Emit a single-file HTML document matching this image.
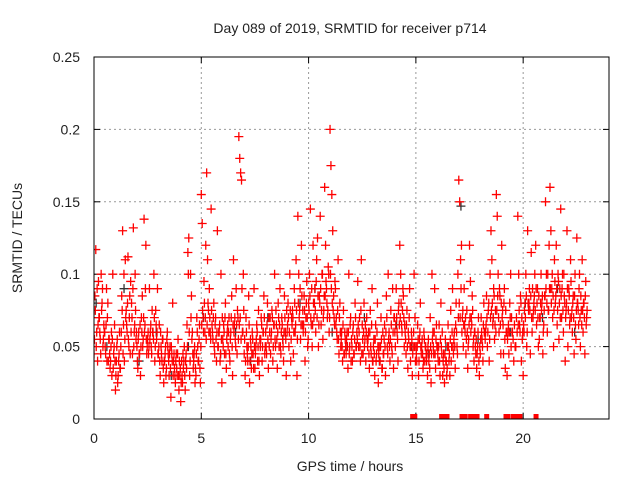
<!DOCTYPE html>
<html><head><meta charset="utf-8"><style>
body{margin:0;background:#fff}
svg text{font-family:"Liberation Sans",sans-serif;fill:#222}
</style></head><body>
<svg width="640" height="480" viewBox="0 0 640 480">
<g id="grid"></g>
<g id="axes"></g>
<defs><clipPath id="pc"><rect x="94" y="57" width="515" height="362"/></clipPath></defs>
<g id="pts" clip-path="url(#pc)"></g>
<rect x="94" y="57" width="515" height="362" fill="none" stroke="#000" stroke-width="1"/>
<text x="350" y="33" text-anchor="middle" font-size="14">Day 089 of 2019, SRMTID for receiver p714</text>
<text x="350" y="471" text-anchor="middle" font-size="14">GPS time / hours</text>
<text transform="translate(22,238) rotate(-90)" text-anchor="middle" font-size="14">SRMTID / TECUs</text>
</svg>
<script>
const xTicks=[0,5,10,15,20];
const yTicks=[0,0.05,0.1,0.15,0.2,0.25];
const yTickLabels=["0","0.05","0.1","0.15","0.2","0.25"];
const binStarts=[0,0.25,0.5,0.75,1,1.25,1.5,1.75,2,2.25,2.5,2.75,3,3.25,3.5,3.75,4,4.25,4.5,4.75,5,5.25,5.5,5.75,6,6.25,6.5,6.75,7,7.25,7.5,7.75,8,8.25,8.5,8.75,9,9.25,9.5,9.75,10,10.25,10.5,10.75,11,11.25,11.5,11.75,12,12.25,12.5,12.75,13,13.25,13.5,13.75,14,14.25,14.5,14.75,15,15.25,15.5,15.75,16,16.25,16.5,16.75,17,17.25,17.5,17.75,18,18.25,18.5,18.75,19,19.25,19.5,19.75,20,20.25,20.5,20.75,21,21.25,21.5,21.75,22,22.25,22.5,22.75];
const binValues=[
[.045,.085,.117,.06,.04,.095],[.07,.055,.1,.08,.05,.065],[.06,.045,.09,.07,.04,.055],[.035,.05,.03,.1,.045,.065],
[.02,.04,.055,.03,.045,.035],[.05,.085,.13,.065,.04,.11],[.075,.06,.112,.05,.085,.095],[.08,.045,.132,.06,.1,.055],
[.05,.035,.06,.045,.03,.07],[.085,.055,.138,.065,.12,.045],[.055,.045,.09,.06,.05,.075],[.06,.1,.04,.075,.055,.09],
[.045,.065,.03,.05,.04,.055],[.025,.04,.05,.035,.06,.045],[.03,.05,.015,.045,.08,.04],[.035,.025,.045,.03,.055,.02],
[.03,.012,.04,.025,.035,.05],[.02,.045,.065,.115,.125,.03],[.1,.085,.06,.035,.045,.025],[.03,.07,.05,.04,.065,.025],
[.155,.135,.07,.095,.06,.12],[.17,.11,.075,.09,.06,.145],[.065,.055,.08,.045,.07,.04],[.13,.05,.06,.04,.1,.025],
[.055,.065,.045,.08,.035,.06],[.05,.07,.04,.06,.085,.03],[.11,.065,.055,.09,.045,.07],[.195,.18,.17,.165,.06,.1],
[.045,.03,.07,.05,.04,.085],[.025,.055,.035,.06,.045,.09],[.035,.05,.065,.04,.075,.03],[.05,.07,.04,.06,.085,.045],
[.06,.045,.08,.035,.05,.07],[.055,.075,.04,.065,.1,.05],[.065,.035,.08,.05,.09,.045],[.07,.055,.04,.085,.06,.03],
[.06,.08,.05,.1,.04,.07],[.075,.045,.09,.06,.11,.03],[.14,.1,.075,.055,.12,.065],[.06,.085,.04,.07,.095,.05],
[.08,.1,.145,.065,.05,.12],[.07,.09,.06,.11,.125,.05],[.085,.14,.065,.1,.055,.075],[.16,.12,.09,.07,.105,.06],
[.2,.175,.155,.13,.085,.065],[.09,.07,.055,.11,.045,.08],[.05,.06,.04,.075,.045,.055],[.045,.06,.035,.1,.05,.07],
[.055,.04,.065,.045,.08,.05],[.06,.095,.05,.07,.04,.11],[.065,.045,.08,.055,.04,.07],[.05,.06,.035,.075,.045,.09],
[.04,.055,.03,.065,.045,.08],[.025,.05,.04,.07,.035,.06],[.045,.065,.03,.085,.05,.1],[.06,.04,.075,.05,.09,.035],
[.07,.05,.09,.06,.04,.08],[.12,.1,.065,.075,.085,.05],[.06,.045,.075,.035,.055,.09],[.04,.06,.03,.05,.1,.07],
[.05,.04,.065,.03,.055,.08],[.045,.055,.035,.06,.04,.05],[.04,.03,.055,.045,.07,.025],[.1,.06,.045,.09,.035,.065],
[.05,.04,.065,.03,.08,.045],[.03,.045,.025,.055,.04,.035],[.065,.04,.03,.075,.05,.09],[.045,.06,.035,.08,.05,.1],
[.165,.15,.11,.12,.07,.05],[.09,.06,.045,.075,.035,.055],[.12,.095,.07,.085,.05,.04],[.06,.045,.035,.05,.07,.03],
[.045,.07,.055,.04,.08,.06],[.06,.085,.05,.075,.04,.1],[.13,.11,.065,.09,.055,.075],[.155,.14,.1,.06,.085,.045],
[.12,.075,.045,.09,.035,.06],[.03,.06,.045,.08,.1,.07],[.06,.04,.05,.07],[.14,.1,.065,.085,.04,.055],
[.03,.06,.08,.1,.05,.13],[.075,.09,.045,.115,.06,.07],[.08,.1,.12,.065,.09,.05],[.055,.07,.1,.08,.045,.065],
[.085,.15,.1,.06,.075,.12],[.16,.13,.09,.07,.05,.11],[.08,.12,.065,.1,.055,.09],[.145,.07,.1,.06,.085,.04],
[.075,.13,.05,.09,.065,.11],[.07,.06,.085,.045,.1,.055],[.125,.08,.065,.1,.05,.075],[.11,.06,.08,.045,.095,.07]];
const binValues2=[
[.055,.075,.05,.09,.065,.07],[.06,.045,.075,.09,.055,.06],[.05,.065,.04,.08,.055,.045],[.04,.06,.055,.035,.05,.04],
[.03,.05,.025,.04,.06,.035],[.06,.075,.045,.1,.055,.07],[.065,.08,.055,.07,.045,.06],[.07,.09,.05,.065,.075,.06],
[.04,.055,.045,.065,.05,.06],[.05,.07,.06,.09,.055,.05],[.06,.05,.055,.065,.045,.06],[.055,.07,.05,.065,.06,.045],
[.05,.04,.06,.045,.055,.035],[.04,.045,.03,.055,.05,.04],[.045,.035,.05,.04,.03,.045],[.03,.04,.035,.045,.03,.04],
[.035,.025,.03,.045,.04,.03],[.04,.035,.05,.1,.06,.04],[.07,.055,.045,.04,.05,.035],[.045,.06,.04,.055,.035,.05],
[.065,.075,.06,.08,.07,.055],[.065,.08,.06,.07,.055,.075],[.06,.07,.05,.065,.055,.06],[.05,.06,.065,.045,.055,.07],
[.05,.06,.07,.045,.055,.065],[.06,.045,.055,.07,.05,.065],[.06,.07,.05,.065,.075,.055],[.065,.07,.055,.09,.06,.075],
[.055,.04,.06,.045,.05,.065],[.04,.05,.045,.055,.035,.05],[.045,.055,.06,.05,.04,.055],[.055,.065,.05,.06,.07,.05],
[.05,.065,.055,.07,.06,.045],[.06,.07,.05,.065,.055,.075],[.055,.06,.07,.065,.05,.06],[.065,.05,.06,.07,.055,.075],
[.065,.07,.06,.075,.055,.065],[.07,.06,.08,.065,.075,.055],[.08,.07,.09,.065,.085,.075],[.065,.075,.06,.08,.07,.055],
[.075,.085,.07,.09,.065,.08],[.08,.075,.095,.07,.085,.065],[.08,.09,.075,.1,.07,.085],[.085,.095,.08,.075,.1,.07],
[.1,.09,.08,.075,.07,.095],[.065,.06,.075,.055,.07,.06],[.055,.05,.065,.045,.06,.05],[.055,.05,.06,.045,.065,.04],
[.05,.06,.045,.055,.07,.05],[.055,.065,.06,.05,.075,.045],[.055,.06,.05,.065,.06,.055],[.055,.045,.06,.05,.065,.04],
[.05,.045,.055,.04,.06,.05],[.045,.04,.05,.055,.035,.045],[.055,.05,.06,.07,.045,.055],[.05,.055,.065,.045,.06,.07],
[.06,.065,.07,.055,.075,.065],[.07,.08,.06,.09,.07,.065],[.055,.065,.05,.06,.07,.05],[.05,.055,.045,.06,.05,.04],
[.045,.05,.055,.04,.06,.05],[.05,.045,.04,.055,.05,.045],[.045,.05,.04,.035,.05,.045],[.055,.05,.06,.045,.055,.05],
[.045,.05,.04,.055,.05,.06],[.04,.035,.045,.04,.03,.05],[.05,.045,.055,.04,.06,.05],[.055,.05,.065,.06,.045,.07],
[.08,.07,.09,.06,.075,.065],[.065,.07,.055,.06,.05,.065],[.07,.06,.065,.075,.055,.06],[.05,.055,.045,.06,.04,.05],
[.055,.06,.05,.065,.06,.055],[.065,.07,.06,.08,.055,.07],[.075,.08,.07,.085,.065,.06],[.075,.085,.07,.09,.065,.08],
[.07,.065,.08,.055,.075,.06],[.055,.065,.06,.07,.05,.06],[.055,.065,.05,.06],[.065,.075,.06,.08,.07,.06],
[.065,.075,.07,.085,.06,.08],[.08,.075,.085,.07,.09,.075],[.085,.075,.09,.08,.07,.085],[.07,.08,.075,.085,.06,.075],
[.085,.09,.08,.1,.075,.09],[.09,.08,.1,.085,.075,.095],[.085,.09,.075,.095,.08,.07],[.085,.09,.075,.1,.08,.07],
[.08,.09,.075,.085,.07,.095],[.075,.08,.07,.085,.065,.075],[.08,.075,.09,.07,.085,.065],[.075,.08,.07,.085,.065,.075]];
const blackHours=[0.1,0.6,1.4,2.1,2.9,3.6,4.4,5.1,5.9,6.6,7.3,8.1,8.8,9.6,10.3,11.1,11.8,12.6,13.3,14.1,14.8,15.6,16.4,17.1,17.9,18.6,19.4,20.1,20.9,21.6,22.4];
const blackValues=[.08,.05,.09,.04,.06,.03,.05,.07,.045,.06,.04,.07,.055,.08,.09,.06,.05,.07,.04,.065,.05,.045,.05,.147,.055,.07,.06,.08,.07,.09,.06];
const zeroHours=[14.85,14.95,16.2,16.3,16.45,17.15,17.3,17.55,17.65,17.75,17.85,18.3,19.2,19.3,19.55,19.65,19.75,19.85,20.6];

const NS='http://www.w3.org/2000/svg';
const X0=94,X1=609,Y0=419,Y1=57;
function xs(h){return X0+(h/24)*(X1-X0);}
function ys(v){return Y0-(v/0.25)*(Y0-Y1);}
function mk(tag,attrs,parent){const e=document.createElementNS(NS,tag);for(const k in attrs)e.setAttribute(k,attrs[k]);parent.appendChild(e);return e;}
const grid=document.getElementById('grid'),axes=document.getElementById('axes'),pts=document.getElementById('pts');
xTicks.forEach(t=>{
  const x=xs(t);
  if(t>0){const g=mk('line',{x1:x,x2:x,y1:Y1,y2:Y0,stroke:'#999','stroke-dasharray':'2,3'},grid);
  
  }
  mk('line',{x1:x,x2:x,y1:Y0,y2:Y0-6,stroke:'#000'},axes);
  mk('line',{x1:x,x2:x,y1:Y1,y2:Y1+6,stroke:'#000'},axes);
  const tx=mk('text',{x:x,y:443,'text-anchor':'middle','font-size':14},axes);
  tx.textContent=String(t);
  
  
});
yTicks.forEach((t,i)=>{
  const y=ys(t);
  if(i>0&&i<yTicks.length-1){const g=mk('line',{x1:X0,x2:X1,y1:y,y2:y,stroke:'#999','stroke-dasharray':'2,3'},grid);
  
  }
  mk('line',{x1:X0,x2:X0+6,y1:y,y2:y,stroke:'#000'},axes);
  mk('line',{x1:X1,x2:X1-6,y1:y,y2:y,stroke:'#000'},axes);
  const tx=mk('text',{x:80,y:y+5,'text-anchor':'end','font-size':14},axes);
  tx.textContent=yTickLabels[i];
  
  
});
function plus(h,v,col){
  const x=xs(h),y=ys(v);
  const p=mk('path',{d:`M${x-4.5},${y}H${x+4.5}M${x},${y-4.5}V${y+4.5}`,stroke:col,'stroke-width':1.3,fill:'none'},pts);
  
  
}
blackHours.forEach((h,i)=>plus(h,blackValues[i],'#333'));
binStarts.forEach((b,i)=>{const vals=binValues[i];vals.forEach((v,j)=>plus(b+j*0.25/vals.length,v,'#f00'));});
binStarts.forEach((b,i)=>{const vals=binValues2[i];vals.forEach((v,j)=>plus(b+(j+0.5)*0.25/vals.length,v,'#f00'));});
zeroHours.forEach(h=>{
  const r=mk('rect',{x:xs(h)-2.5,y:ys(0)-5,width:5,height:10,fill:'#f00'},pts);
  
  
});
</script>
</body></html>
